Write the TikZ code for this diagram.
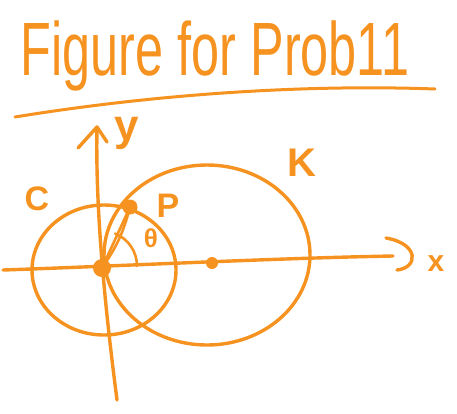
\documentclass[tikz,border=0pt]{standalone}
\usepackage{fontspec}
\setmainfont{Liberation Sans}
\usetikzlibrary{shapes.geometric}
\definecolor{pen}{RGB}{245,146,32}
\begin{document}
\begin{tikzpicture}[x=1pt,y=-1pt,
  ink/.style={draw=pen,line width=3.4pt,line cap=round,line join=round},
  lbl/.style={text=pen,inner sep=0pt,font=\bfseries\fontsize{30}{30}\selectfont},
  dot/.style={circle,fill=pen,inner sep=0pt,minimum size=#1}]
\useasboundingbox (0,0) rectangle (457,413);
% title
\node[text=pen,inner sep=0pt,xscale=0.7,yscale=1.05,font=\fontsize{72}{72}\selectfont,anchor=base] (title) at (215,75) {Figure for Prob11};
\coordinate (ul) at (15,117);
\coordinate (ur) at (435,89);
\draw[ink,line width=3pt] (ul) .. controls (150,95) and (300,84) .. (ur);
% axes
\coordinate (xl) at (3,270);
\coordinate (xr) at (393,256);
\draw[ink] (xl) .. controls (120,266) and (280,258) .. (xr);
\coordinate (xa) at (386,238);
\draw[ink] (xa) .. controls (420,244) and (418,268) .. (397,270);
\node[lbl,font=\bfseries\fontsize{30}{30}\selectfont] (xlab) at (436,264) {x};
\coordinate (yb) at (117,400);
\coordinate (yt) at (97,127);
\draw[ink] (yb) .. controls (108,330) and (95,220) .. (yt);
\draw[ink] (78,148) -- (yt) -- (107,142);
\node[lbl,font=\bfseries\fontsize{44}{44}\selectfont] (ylab) at (127,133) {y};
% circles
\node[ellipse,ink,minimum width=144,minimum height=130,inner sep=0pt] (C) at (104,270) {};
\node[ellipse,ink,minimum width=206,minimum height=180,inner sep=0pt] (K) at (207,255) {};
\node[lbl,font=\bfseries\fontsize{34}{34}\selectfont] (clab) at (37,199) {C};
\node[lbl,font=\bfseries\fontsize{40}{40}\selectfont] (klab) at (302,163) {K};
% points
\node[dot=18pt] (O) at (102,268) {};
\node[dot=15pt] (P) at (130,207) {};
\node[dot=12pt] (Kc) at (212,263) {};
\node[lbl,font=\bfseries\fontsize{34}{34}\selectfont] (plab) at (168,206) {P};
\draw[ink,line width=2.6pt] (O.center) -- (P.center);
\draw[ink,line width=2.6pt] (O.center) to[bend right=10] (P.center);
% angle
\draw[ink,line width=2.6pt] (137,266) arc[start angle=0,end angle=-68,radius=35];
\node[lbl,font=\bfseries\fontsize{26}{26}\selectfont] (theta) at (151,238) {θ};
\end{tikzpicture}
\end{document}
